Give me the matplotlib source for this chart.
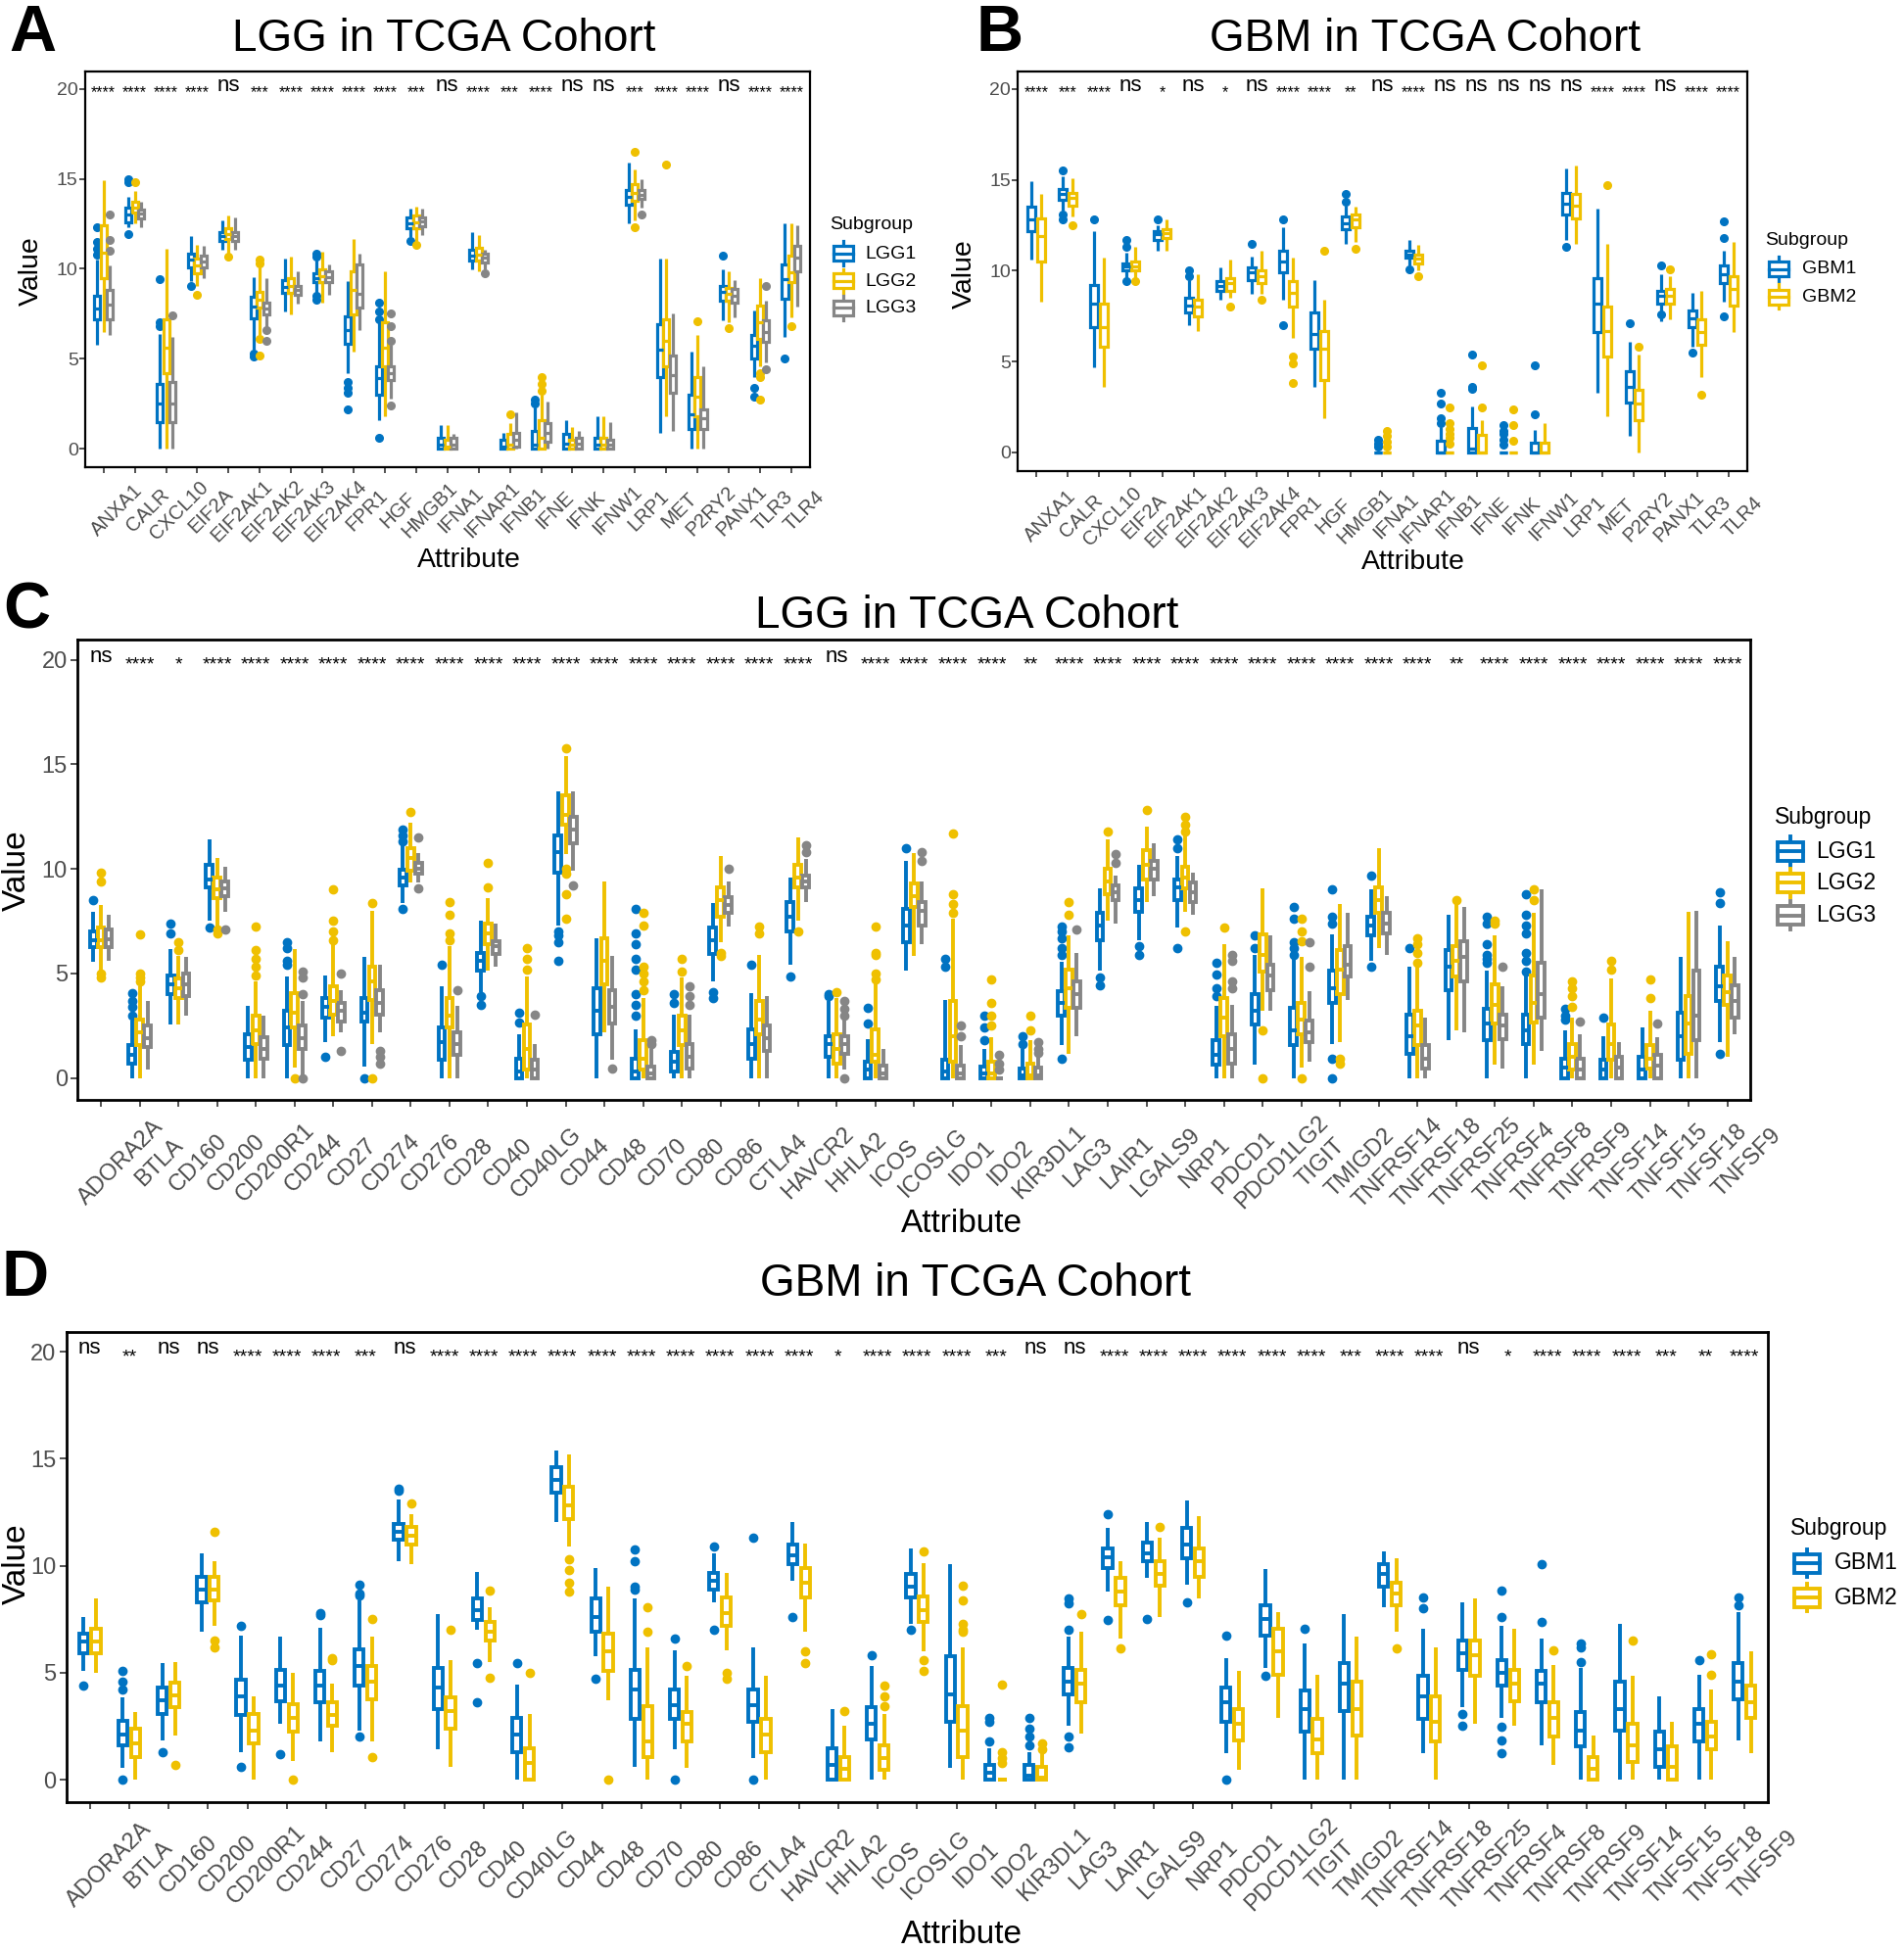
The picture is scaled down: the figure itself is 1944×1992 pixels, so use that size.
import matplotlib
matplotlib.use("Agg")
import matplotlib.pyplot as plt
from matplotlib.patches import Rectangle
from matplotlib.lines import Line2D
from matplotlib.transforms import ScaledTranslation

plt.rcParams["font.family"] = ["Liberation Sans", "DejaVu Sans"]

# jco palette
BLUE, YELLOW, GREY = "#0073C2", "#EFC000", "#868686"

# ---------------- panels A / B ----------------
icd_genes = ["ANXA1", "CALR", "CXCL10", "EIF2A", "EIF2AK1", "EIF2AK2", "EIF2AK3", "EIF2AK4",
             "FPR1", "HGF", "HMGB1", "IFNA1", "IFNAR1", "IFNB1", "IFNE", "IFNK", "IFNW1",
             "LRP1", "MET", "P2RY2", "PANX1", "TLR3", "TLR4"]
sig_a = ["****", "****", "****", "****", "ns", "***", "****", "****", "****", "****", "***", "ns",
         "****", "***", "****", "ns", "ns", "***", "****", "****", "ns", "****", "****"]
sig_b = ["****", "***", "****", "ns", "*", "ns", "*", "ns", "****", "****", "**", "ns",
         "****", "ns", "ns", "ns", "ns", "ns", "****", "****", "ns", "****", "****"]

# rows: whisker low, Q1, median, Q3, whisker high, outliers
lgg1_icd = [
    (5.8, 7.2, 7.8, 8.5, 10.5, [10.8, 11.1, 11.5, 12.3]),
    (12.3, 12.6, 13.0, 13.4, 14.0, [14.8, 14.95, 11.9]),
    (0.0, 1.5, 2.5, 3.6, 6.4, [6.8, 7.0, 9.4]),
    (9.3, 10.05, 10.5, 10.85, 11.8, [9.05]),
    (11.05, 11.56, 11.8, 12.06, 12.66, []),
    (5.5, 7.24, 7.9, 8.44, 9.55, [5.1, 5.3]),
    (7.64, 8.64, 9.0, 9.35, 10.55, []),
    (8.64, 9.25, 9.5, 9.75, 10.45, [10.7, 10.85, 8.5, 8.3]),
    (4.2, 5.83, 6.6, 7.34, 9.3, [3.7, 3.4, 3.1, 2.2]),
    (1.6, 3.0, 3.9, 4.6, 7.0, [7.2, 7.6, 8.1, 0.6]),
    (11.75, 12.26, 12.5, 12.86, 13.35, [11.55]),
    (0.0, 0.0, 0.2, 0.6, 1.3, []),
    (9.95, 10.45, 10.75, 11.05, 12.06, []),
    (0.0, 0.0, 0.1, 0.5, 0.9, []),
    (0.0, 0.0, 0.2, 1.0, 2.3, [2.5, 2.7]),
    (0.0, 0.0, 0.3, 0.8, 1.6, []),
    (0.0, 0.0, 0.2, 0.6, 1.8, []),
    (12.5, 13.55, 14.0, 14.4, 15.9, []),
    (0.9, 4.0, 5.5, 6.93, 10.55, []),
    (0.0, 1.1, 1.9, 3.0, 5.4, []),
    (7.14, 8.24, 8.7, 9.05, 9.95, [10.75]),
    (4.0, 5.0, 5.7, 6.33, 7.7, [3.4, 2.9]),
    (6.2, 8.34, 9.4, 10.25, 12.5, [5.0]),
]
lgg2_icd = [
    (6.5, 9.5, 10.9, 12.4, 14.9, []),
    (12.5, 13.1, 13.4, 13.7, 14.3, [14.8]),
    (0.0, 4.2, 5.6, 7.2, 11.1, []),
    (9.05, 9.75, 10.2, 10.55, 11.35, [8.55]),
    (10.85, 11.66, 11.95, 12.26, 12.96, [10.65]),
    (6.3, 7.84, 8.3, 8.74, 10.05, [10.3, 10.5, 6.1, 5.2]),
    (7.44, 8.64, 9.05, 9.45, 10.65, []),
    (8.14, 9.25, 9.6, 9.95, 10.95, []),
    (5.4, 7.44, 8.8, 9.85, 11.66, []),
    (1.8, 4.6, 5.6, 7.0, 9.85, []),
    (11.55, 12.26, 12.6, 12.96, 13.45, [11.35]),
    (0.0, 0.0, 0.1, 0.5, 1.3, []),
    (9.85, 10.45, 10.8, 11.15, 11.86, []),
    (0.0, 0.0, 0.2, 0.8, 1.4, [1.9]),
    (0.0, 0.0, 0.6, 1.6, 3.0, [3.2, 3.6, 4.0]),
    (0.0, 0.0, 0.2, 0.5, 1.2, []),
    (0.0, 0.0, 0.2, 0.6, 1.8, []),
    (12.66, 13.8, 14.2, 14.7, 15.5, [16.5, 12.3]),
    (1.8, 4.6, 6.0, 7.2, 10.55, [15.8]),
    (0.0, 1.8, 2.9, 4.0, 6.3, [7.1]),
    (7.0, 8.24, 8.6, 8.95, 9.85, [6.7]),
    (4.6, 6.1, 7.0, 7.94, 9.45, [4.2, 4.0, 2.7]),
    (7.3, 9.25, 9.8, 10.75, 12.5, [6.8]),
]
lgg3_icd = [
    (6.3, 7.2, 8.0, 8.8, 10.2, [11.0, 11.6, 13.0]),
    (12.3, 12.8, 13.05, 13.3, 13.7, []),
    (0.0, 1.5, 2.5, 3.7, 6.2, [7.4]),
    (9.45, 10.05, 10.4, 10.75, 11.25, []),
    (11.05, 11.56, 11.8, 12.06, 12.86, []),
    (6.7, 7.44, 7.8, 8.14, 9.45, [6.0, 6.6]),
    (8.04, 8.54, 8.8, 9.05, 9.85, []),
    (8.54, 9.25, 9.55, 9.85, 10.25, []),
    (6.6, 7.84, 8.6, 10.25, 10.85, []),
    (2.8, 3.8, 4.2, 4.6, 5.8, [6.0, 6.8, 7.5, 2.4]),
    (11.85, 12.36, 12.65, 12.86, 13.35, []),
    (0.0, 0.0, 0.2, 0.6, 0.8, []),
    (9.95, 10.35, 10.6, 10.85, 11.05, [9.75]),
    (0.0, 0.1, 0.5, 0.9, 2.0, []),
    (0.0, 0.4, 0.9, 1.4, 2.6, []),
    (0.0, 0.0, 0.3, 0.6, 1.0, []),
    (0.0, 0.0, 0.2, 0.5, 1.5, []),
    (13.4, 13.9, 14.1, 14.4, 15.0, [13.0]),
    (1.0, 3.1, 4.1, 5.2, 7.5, []),
    (0.0, 1.1, 1.7, 2.2, 4.6, []),
    (7.3, 8.14, 8.5, 8.85, 9.35, []),
    (4.8, 5.93, 6.5, 7.14, 8.24, [9.05, 4.4]),
    (7.9, 9.85, 10.6, 11.25, 12.4, []),
]
gbm1_icd = [
    (10.6, 12.2, 12.8, 13.5, 14.9, []),
    (13.3, 13.9, 14.2, 14.5, 15.2, [15.5, 13.1, 12.8]),
    (4.7, 6.9, 8.2, 9.2, 12.2, [12.8]),
    (9.6, 10.0, 10.25, 10.4, 11.0, [11.3, 11.7, 9.4]),
    (11.1, 11.7, 12.0, 12.2, 12.5, [12.8]),
    (7.0, 7.7, 8.1, 8.5, 9.5, [9.7, 10.0]),
    (8.4, 8.9, 9.15, 9.4, 10.2, []),
    (8.7, 9.5, 9.9, 10.2, 10.8, [11.5]),
    (8.4, 9.9, 10.5, 11.1, 12.4, [12.8, 7.0]),
    (3.6, 5.7, 6.5, 7.7, 9.5, []),
    (11.5, 12.3, 12.6, 13.0, 13.6, [13.8, 14.2]),
    (0.0, 0.0, 0.0, 0.0, 0.0, [0.3, 0.5, 0.7]),
    (10.3, 10.7, 10.9, 11.1, 11.7, [10.1]),
    (0.0, 0.0, 0.0, 0.65, 1.4, [1.6, 1.9, 2.7, 3.3]),
    (0.0, 0.0, 0.2, 1.35, 2.55, [3.5, 3.6, 5.4]),
    (0.0, 0.0, 0.0, 0.0, 0.0, [0.4, 0.7, 1.0, 1.2, 1.5]),
    (0.0, 0.0, 0.0, 0.55, 1.25, [2.1, 4.8]),
    (11.7, 13.1, 13.7, 14.3, 15.6, [11.3]),
    (3.3, 6.6, 8.2, 9.6, 13.4, []),
    (0.9, 2.75, 3.6, 4.45, 6.1, [7.1]),
    (7.2, 8.2, 8.6, 8.9, 9.8, [10.3, 7.6]),
    (5.8, 6.9, 7.4, 7.8, 8.8, [5.5]),
    (8.3, 9.3, 9.8, 10.3, 11.1, [11.8, 12.7, 7.5]),
]
gbm2_icd = [
    (8.3, 10.5, 11.9, 12.9, 14.2, []),
    (13.0, 13.6, 14.0, 14.3, 15.1, [12.5]),
    (3.6, 5.8, 6.9, 8.2, 10.7, []),
    (9.6, 10.0, 10.25, 10.5, 11.3, [9.4]),
    (11.1, 11.8, 12.05, 12.3, 12.8, []),
    (6.7, 7.5, 8.0, 8.4, 9.8, []),
    (8.5, 8.9, 9.3, 9.6, 10.6, [8.0]),
    (8.7, 9.3, 9.7, 10.0, 11.1, [8.4]),
    (6.3, 8.0, 8.8, 9.4, 10.7, [5.3, 4.9, 3.8]),
    (1.9, 4.0, 5.7, 6.7, 8.4, [11.1]),
    (11.6, 12.4, 12.8, 13.1, 13.5, [11.2]),
    (0.0, 0.0, 0.0, 0.0, 0.0, [0.3, 0.6, 0.9, 1.2]),
    (10.0, 10.4, 10.65, 10.9, 11.4, [9.7]),
    (0.0, 0.0, 0.0, 0.0, 0.0, [0.5, 0.8, 1.0, 1.3, 1.6, 2.5]),
    (0.0, 0.0, 0.0, 0.95, 1.75, [2.5, 4.8]),
    (0.0, 0.0, 0.0, 0.0, 0.0, [0.65, 1.5, 2.35]),
    (0.0, 0.0, 0.0, 0.55, 1.6, []),
    (11.5, 12.9, 13.6, 14.2, 15.8, []),
    (2.0, 5.3, 6.7, 8.0, 11.5, [14.7]),
    (0.0, 1.75, 2.7, 3.45, 5.4, [5.8]),
    (7.3, 8.2, 8.6, 9.0, 9.7, [10.1]),
    (4.15, 5.9, 6.6, 7.3, 8.9, [3.15]),
    (6.6, 8.1, 9.0, 9.7, 11.6, []),
]

# ---------------- panels C / D ----------------
icp_genes = ["ADORA2A", "BTLA", "CD160", "CD200", "CD200R1", "CD244", "CD27", "CD274", "CD276",
             "CD28", "CD40", "CD40LG", "CD44", "CD48", "CD70", "CD80", "CD86", "CTLA4", "HAVCR2",
             "HHLA2", "ICOS", "ICOSLG", "IDO1", "IDO2", "KIR3DL1", "LAG3", "LAIR1", "LGALS9",
             "NRP1", "PDCD1", "PDCD1LG2", "TIGIT", "TMIGD2", "TNFRSF14", "TNFRSF18", "TNFRSF25",
             "TNFRSF4", "TNFRSF8", "TNFRSF9", "TNFSF14", "TNFSF15", "TNFSF18", "TNFSF9"]
sig_c = ["ns", "****", "*", "****", "****", "****", "****", "****", "****", "****", "****", "****",
         "****", "****", "****", "****", "****", "****", "****", "ns", "****", "****", "****", "****",
         "**", "****", "****", "****", "****", "****", "****", "****", "****", "****", "****", "**",
         "****", "****", "****", "****", "****", "****", "****"]
sig_d = ["ns", "**", "ns", "ns", "****", "****", "****", "***", "ns", "****", "****", "****", "****",
         "****", "****", "****", "****", "****", "****", "*", "****", "****", "****", "***", "ns",
         "ns", "****", "****", "****", "****", "****", "****", "***", "****", "****", "ns", "*",
         "****", "****", "****", "***", "**", "****"]

lgg1_icp = [
    (5.54, 6.24, 6.6, 7.0, 7.96, [8.5]),
    (0.0, 0.7, 1.1, 1.56, 2.73, [3.0, 3.4, 3.7, 4.06]),
    (2.57, 4.0, 4.5, 4.9, 6.16, [6.9, 7.4]),
    (7.5, 9.1, 9.5, 10.2, 11.4, [7.2]),
    (0.0, 0.86, 1.5, 2.1, 3.43, []),
    (0.0, 1.56, 2.4, 3.2, 4.84, [5.4, 5.6, 6.2, 6.47]),
    (1.7, 2.9, 3.4, 3.8, 4.9, [1.0]),
    (0.55, 2.7, 3.1, 3.8, 5.8, [0.0]),
    (8.35, 9.2, 9.6, 9.98, 11.15, [11.3, 11.6, 11.9, 8.1]),
    (0.0, 0.86, 1.7, 2.4, 4.37, [5.4]),
    (4.1, 5.15, 5.6, 6.0, 7.5, [3.5, 3.9]),
    (0.0, 0.0, 0.3, 0.94, 2.1, [2.65, 3.1]),
    (7.3, 9.8, 10.8, 11.6, 13.7, [7.0, 6.8, 6.5, 5.6]),
    (0.0, 2.1, 3.2, 4.3, 6.7, []),
    (0.0, 0.0, 0.3, 0.94, 2.34, [3.0, 3.5, 4.0, 5.2, 5.7, 6.4, 6.9, 8.1]),
    (0.0, 0.3, 0.8, 1.25, 3.04, [3.6, 4.0]),
    (4.6, 5.93, 6.6, 7.2, 8.35, [4.1, 3.8]),
    (0.0, 0.94, 1.6, 2.34, 4.06, [5.4]),
    (5.4, 7.0, 7.7, 8.4, 9.6, [4.84]),
    (0.0, 1.0, 1.6, 2.0, 3.67, [3.9, 4.0]),
    (0.0, 0.0, 0.4, 0.78, 1.87, [2.6, 3.35]),
    (5.15, 6.47, 7.3, 8.1, 10.4, [11.0]),
    (0.0, 0.0, 0.3, 0.86, 3.74, [5.3, 5.7]),
    (0.0, 0.0, 0.2, 0.55, 1.4, [1.8, 2.4, 3.0]),
    (0.0, 0.0, 0.1, 0.47, 1.4, [1.6, 2.0]),
    (1.56, 2.96, 3.6, 4.13, 5.54, [5.9, 6.2, 6.7, 7.0, 7.25, 0.94]),
    (5.15, 6.6, 7.3, 7.9, 9.05, [4.8, 4.45]),
    (6.6, 7.96, 8.5, 9.05, 10.2, [6.3, 5.9]),
    (7.2, 8.5, 9.1, 9.5, 10.6, [11.0, 11.4, 6.2]),
    (0.0, 0.62, 1.1, 1.8, 3.43, [3.9, 4.3, 4.95, 5.5]),
    (0.62, 2.57, 3.2, 4.0, 5.9, [6.2, 6.8]),
    (0.0, 1.56, 2.3, 3.35, 5.77, [5.9, 6.2, 6.5, 7.6, 8.2]),
    (1.64, 3.6, 4.3, 5.15, 6.86, [7.4, 7.7, 9.0, 0.9, 0.0]),
    (5.6, 6.8, 7.3, 7.7, 9.0, [9.7, 5.3]),
    (0.0, 1.17, 2.0, 3.04, 5.3, [6.2]),
    (1.8, 4.2, 5.3, 6.1, 7.8, []),
    (0.0, 1.8, 2.6, 3.3, 5.15, [5.5, 5.7, 5.9, 6.4, 7.4, 7.7]),
    (0.0, 1.64, 2.3, 3.04, 5.0, [5.1, 5.6, 6.0, 6.9, 7.3, 7.8, 8.8]),
    (0.0, 0.0, 0.5, 0.94, 2.3, [2.8, 3.0, 3.3]),
    (0.0, 0.0, 0.4, 0.86, 2.0, [2.9]),
    (0.0, 0.0, 0.4, 1.0, 2.4, []),
    (0.0, 0.86, 2.0, 3.1, 5.8, []),
    (1.7, 3.67, 4.4, 5.3, 7.3, [8.35, 8.9, 1.17]),
]
lgg2_icp = [
    (5.07, 6.24, 6.6, 7.2, 8.27, [9.4, 9.8, 5.0, 4.8]),
    (0.0, 1.56, 2.2, 2.8, 4.4, [4.6, 4.8, 5.0, 6.86]),
    (2.57, 3.8, 4.3, 4.75, 5.85, [6.1, 6.5]),
    (7.25, 8.6, 9.0, 9.6, 10.5, [7.1, 6.9]),
    (0.0, 1.64, 2.3, 2.96, 4.6, [4.9, 5.3, 5.7, 6.1, 7.25]),
    (0.5, 2.42, 3.1, 4.06, 6.16, [0.0]),
    (2.0, 3.04, 3.7, 4.37, 6.4, [6.6, 7.0, 7.5, 9.0]),
    (1.64, 3.74, 4.6, 5.3, 8.0, [8.35, 0.0]),
    (9.36, 9.9, 10.5, 11.0, 12.2, [12.7]),
    (0.0, 2.4, 3.0, 3.8, 6.3, [6.6, 6.9, 7.8, 8.4]),
    (5.15, 6.4, 6.9, 7.4, 8.6, [9.1, 10.3]),
    (0.0, 0.4, 1.4, 2.57, 4.84, [5.2, 5.7, 6.2]),
    (10.7, 12.1, 12.6, 13.5, 15.4, [15.75, 10.0, 9.75, 8.8, 7.6]),
    (2.2, 4.5, 5.6, 6.7, 9.4, []),
    (0.0, 0.4, 0.9, 1.8, 3.8, [4.2, 4.6, 5.0, 5.3, 7.3, 7.9]),
    (0.0, 1.56, 2.3, 2.96, 4.8, [5.1, 5.7]),
    (6.5, 7.7, 8.5, 9.1, 10.6, [6.0, 5.85]),
    (0.0, 2.1, 2.8, 3.67, 5.9, [6.9, 7.25]),
    (7.5, 9.1, 9.6, 10.2, 11.5, [7.0]),
    (0.0, 0.7, 1.4, 2.1, 3.8, [4.1]),
    (0.0, 0.78, 1.1, 2.34, 4.6, [4.7, 5.0, 5.9, 6.0, 7.25]),
    (5.85, 8.2, 8.7, 9.3, 10.76, []),
    (0.0, 0.78, 2.0, 3.67, 7.6, [7.9, 8.3, 8.8, 11.7]),
    (0.0, 0.0, 0.2, 0.78, 1.95, [2.5, 3.0, 3.6, 4.7]),
    (0.0, 0.0, 0.1, 0.7, 1.8, [2.26, 3.0]),
    (1.17, 3.35, 4.3, 5.2, 6.8, [7.8, 8.4]),
    (7.5, 8.8, 9.4, 10.0, 11.4, [11.8]),
    (8.4, 9.5, 10.2, 10.9, 12.0, [12.8]),
    (7.95, 9.05, 9.6, 10.1, 11.6, [11.8, 12.1, 12.5, 7.0]),
    (0.0, 2.0, 2.9, 3.8, 6.4, [7.2]),
    (3.2, 5.07, 5.9, 6.86, 9.05, [2.26, 0.0]),
    (0.5, 2.1, 2.8, 3.6, 5.8, [6.55, 7.0, 7.6, 0.0]),
    (1.7, 4.0, 5.2, 6.1, 8.3, [0.9, 0.7]),
    (6.2, 7.9, 8.5, 9.1, 11.0, []),
    (0.0, 1.56, 2.5, 3.2, 5.3, [5.5, 6.0, 6.4, 6.7]),
    (2.26, 4.84, 5.6, 6.3, 8.3, [8.5]),
    (0.62, 2.6, 3.5, 4.5, 6.8, [7.4, 7.5]),
    (0.62, 2.65, 3.6, 4.9, 7.9, [8.5, 9.0]),
    (0.0, 0.39, 1.0, 1.64, 2.9, [3.4, 3.9, 4.3, 4.6]),
    (0.0, 0.86, 1.6, 2.57, 4.75, [5.2, 5.6]),
    (0.0, 0.47, 0.9, 1.56, 3.2, [3.8, 4.7]),
    (0.0, 1.17, 2.6, 3.9, 7.96, []),
    (1.0, 3.5, 4.1, 4.9, 6.55, []),
]
lgg3_icp = [
    (5.6, 6.24, 6.65, 7.1, 7.8, []),
    (0.4, 1.48, 1.9, 2.5, 3.67, []),
    (2.96, 3.9, 4.5, 5.0, 5.77, []),
    (7.95, 8.7, 9.05, 9.4, 10.1, [7.1]),
    (0.0, 0.94, 1.4, 1.95, 2.96, []),
    (0.0, 1.4, 1.9, 2.5, 3.67, [4.0, 4.8, 5.1, 0.0]),
    (2.2, 2.7, 3.2, 3.6, 4.2, [5.0, 1.3]),
    (2.2, 3.04, 3.6, 4.2, 5.4, [1.3, 1.0, 0.7]),
    (9.36, 9.75, 10.0, 10.3, 10.76, [11.5, 9.05]),
    (0.0, 1.1, 1.6, 2.2, 3.43, [4.2]),
    (5.3, 5.93, 6.3, 6.55, 7.4, []),
    (0.0, 0.0, 0.4, 0.86, 1.64, [3.04]),
    (9.9, 11.2, 11.9, 12.5, 13.7, [9.2]),
    (0.86, 2.6, 3.4, 4.2, 5.85, [0.47]),
    (0.0, 0.0, 0.2, 0.55, 1.4, [1.6, 1.8]),
    (0.0, 0.47, 1.0, 1.64, 3.04, [3.5, 3.9, 4.4]),
    (7.25, 7.9, 8.25, 8.65, 9.4, [10.0]),
    (0.0, 1.3, 1.9, 2.5, 3.9, []),
    (8.4, 9.1, 9.4, 9.7, 10.45, [10.8, 11.15]),
    (0.4, 1.17, 1.6, 2.0, 2.9, [3.0, 3.3, 3.7, 0.0]),
    (0.0, 0.0, 0.2, 0.57, 1.4, []),
    (6.4, 7.3, 8.0, 8.4, 9.4, [10.4, 10.8]),
    (0.0, 0.0, 0.2, 0.6, 1.56, [2.0, 2.5]),
    (0.0, 0.0, 0.0, 0.0, 0.0, [0.4, 0.7, 1.1]),
    (0.0, 0.0, 0.1, 0.5, 1.0, [1.2, 1.4, 1.7]),
    (2.0, 3.35, 4.0, 4.6, 6.0, [7.1]),
    (7.4, 8.5, 8.9, 9.2, 9.7, [10.3, 10.7]),
    (8.7, 9.5, 10.0, 10.4, 11.2, []),
    (7.8, 8.4, 8.9, 9.36, 9.8, []),
    (0.0, 0.7, 1.4, 2.1, 3.5, [4.3, 4.6, 5.6, 5.9]),
    (3.2, 4.2, 4.9, 5.4, 6.8, []),
    (0.78, 1.72, 2.2, 2.73, 4.13, [5.3, 6.5]),
    (3.74, 4.84, 5.4, 6.3, 7.9, []),
    (5.9, 6.9, 7.4, 7.9, 8.7, []),
    (0.0, 0.47, 0.9, 1.56, 2.9, []),
    (2.2, 4.6, 5.8, 6.55, 8.2, []),
    (0.47, 1.87, 2.5, 3.04, 4.37, [5.3]),
    (1.3, 2.9, 4.0, 5.5, 9.0, []),
    (0.0, 0.0, 0.4, 0.94, 2.1, [2.7]),
    (0.0, 0.0, 0.5, 1.0, 1.7, []),
    (0.0, 0.0, 0.6, 1.1, 1.95, [2.6]),
    (0.0, 1.8, 3.0, 5.15, 8.0, []),
    (2.1, 2.9, 3.7, 4.45, 5.77, []),
]
gbm1_icp = [
    (5.07, 5.9, 6.45, 6.83, 7.6, [4.38]),
    (0.54, 1.61, 2.1, 2.76, 3.84, [4.2, 4.6, 5.1, 0.0]),
    (1.84, 3.07, 3.7, 4.3, 5.45, [1.3]),
    (6.9, 8.3, 8.9, 9.5, 10.6, []),
    (1.3, 3.0, 3.9, 4.68, 6.75, [7.2, 0.6]),
    (2.6, 3.68, 4.4, 5.14, 6.7, [1.2]),
    (1.77, 3.6, 4.4, 5.07, 7.1, [7.7, 7.8]),
    (2.3, 4.4, 5.3, 6.1, 8.4, [8.6, 8.7, 9.1, 2.0]),
    (10.2, 11.2, 11.6, 11.97, 13.1, [13.5, 13.6]),
    (1.4, 3.3, 4.3, 5.2, 7.75, []),
    (7.0, 7.45, 7.9, 8.45, 9.7, [5.45, 3.6]),
    (0.0, 1.3, 2.1, 2.9, 4.45, [5.45]),
    (12.05, 13.4, 14.0, 14.6, 15.4, []),
    (5.75, 6.9, 7.6, 8.45, 9.9, [4.7]),
    (0.6, 2.84, 4.2, 5.14, 8.45, [8.9, 9.0, 10.2, 10.75]),
    (1.4, 2.84, 3.5, 4.22, 6.06, [6.6, 0.0]),
    (8.3, 8.9, 9.3, 9.67, 10.6, [10.9, 7.0]),
    (1.0, 2.69, 3.5, 4.22, 6.2, [11.3, 0.0]),
    (9.3, 10.06, 10.5, 10.97, 12.05, [7.6]),
    (0.0, 0.0, 0.7, 1.46, 3.3, []),
    (0.0, 1.9, 2.6, 3.38, 5.3, [5.8]),
    (7.3, 8.5, 9.0, 9.6, 10.8, [7.0]),
    (0.54, 2.69, 4.0, 5.75, 10.06, []),
    (0.0, 0.0, 0.3, 0.7, 1.46, [1.8, 2.7, 2.9]),
    (0.0, 0.0, 0.2, 0.7, 1.3, [1.6, 2.0, 2.4, 2.9]),
    (2.5, 4.0, 4.6, 5.2, 6.7, [7.0, 8.25, 8.45, 2.0, 1.5]),
    (8.8, 9.9, 10.4, 10.8, 11.75, [12.4, 7.45]),
    (9.44, 10.2, 10.6, 11.1, 12.05, [7.5]),
    (9.1, 10.36, 11.0, 11.75, 13.05, [8.3]),
    (1.23, 2.7, 3.6, 4.3, 5.7, [6.75, 0.0]),
    (5.2, 6.75, 7.5, 8.14, 9.83, [4.84]),
    (0.0, 2.23, 3.3, 4.15, 6.37, [7.06]),
    (0.0, 3.2, 4.5, 5.45, 7.75, []),
    (8.06, 9.0, 9.6, 10.06, 10.67, []),
    (1.23, 2.84, 3.9, 4.84, 7.06, [8.0, 8.5]),
    (3.38, 5.14, 5.9, 6.5, 8.3, [3.07, 2.5]),
    (2.9, 4.38, 5.0, 5.6, 7.2, [7.6, 8.86, 2.46, 1.84, 1.23]),
    (1.6, 3.6, 4.5, 5.07, 6.6, [7.37, 10.06]),
    (0.0, 1.54, 2.3, 3.15, 5.2, [5.5, 6.2, 6.37]),
    (0.0, 2.3, 3.3, 4.6, 7.3, []),
    (0.0, 0.6, 1.4, 2.23, 3.9, []),
    (0.0, 1.77, 2.6, 3.3, 4.9, [5.6]),
    (1.84, 3.76, 4.6, 5.45, 7.83, [8.14, 8.5]),
]
gbm2_icp = [
    (5.0, 5.9, 6.45, 7.06, 8.45, []),
    (0.0, 1.07, 1.7, 2.38, 3.15, []),
    (2.07, 3.38, 3.95, 4.53, 5.5, [0.7]),
    (7.2, 8.37, 8.9, 9.5, 10.2, [11.6, 6.5, 6.2]),
    (0.0, 1.69, 2.3, 3.07, 3.9, []),
    (0.85, 2.23, 2.9, 3.53, 5.0, [0.0]),
    (1.3, 2.5, 3.0, 3.6, 4.5, [5.6, 5.7]),
    (1.77, 3.76, 4.6, 5.3, 6.7, [7.5, 1.07]),
    (10.06, 10.97, 11.4, 11.8, 12.4, [12.9]),
    (0.6, 2.38, 3.2, 3.84, 5.6, [7.0]),
    (5.5, 6.5, 6.9, 7.37, 8.06, [8.86, 4.76]),
    (0.0, 0.0, 0.8, 1.46, 3.07, [5.0]),
    (10.9, 12.2, 12.8, 13.7, 15.2, [10.3, 9.8, 9.2, 8.8]),
    (3.7, 5.07, 6.0, 6.83, 9.0, [0.0]),
    (0.0, 1.07, 1.8, 3.45, 6.2, [6.9, 8.06]),
    (0.54, 1.77, 2.6, 3.15, 4.84, [5.3]),
    (6.06, 7.2, 7.8, 8.5, 9.67, [5.0, 4.7]),
    (0.0, 1.3, 2.1, 2.84, 4.84, []),
    (6.9, 8.5, 9.2, 9.9, 11.05, [6.0, 5.45]),
    (0.0, 0.0, 0.5, 1.07, 2.5, [3.2]),
    (0.0, 0.46, 1.0, 1.6, 3.07, [3.45, 3.9, 4.4]),
    (6.0, 7.37, 7.9, 8.55, 10.1, [10.67, 5.6, 5.07]),
    (0.0, 1.07, 2.3, 3.45, 6.2, [6.9, 7.0, 7.3, 8.4, 9.06]),
    (0.0, 0.0, 0.0, 0.0, 0.0, [0.8, 1.0, 1.3, 4.45]),
    (0.0, 0.0, 0.1, 0.6, 1.3, [1.4, 1.7]),
    (2.15, 3.6, 4.5, 5.14, 6.9, [7.75]),
    (6.6, 8.14, 8.8, 9.44, 10.2, [6.14]),
    (7.6, 9.06, 9.6, 10.2, 11.3, [11.8]),
    (8.45, 9.5, 10.2, 10.8, 12.3, []),
    (0.46, 1.84, 2.6, 3.3, 5.07, []),
    (2.9, 4.9, 6.0, 7.06, 7.83, []),
    (0.0, 1.23, 1.9, 2.84, 4.9, []),
    (0.0, 2.07, 3.3, 4.6, 6.7, []),
    (6.9, 8.14, 8.7, 9.2, 10.36, [6.14]),
    (0.0, 1.77, 2.7, 3.9, 6.2, []),
    (2.6, 4.84, 5.8, 6.5, 8.45, []),
    (2.53, 3.68, 4.5, 5.14, 7.06, []),
    (0.7, 2.0, 2.9, 3.6, 5.37, [6.06]),
    (0.0, 0.0, 0.5, 1.07, 2.07, []),
    (0.0, 0.84, 1.6, 2.6, 4.84, [6.5]),
    (0.0, 0.0, 0.6, 1.54, 2.7, []),
    (0.0, 1.4, 2.0, 2.7, 4.2, [4.9, 5.84]),
    (1.23, 2.9, 3.6, 4.38, 6.0, []),
]

for series in (lgg1_icd, lgg2_icd, lgg3_icd, gbm1_icd, gbm2_icd):
    assert len(series) == len(icd_genes)
for series in (lgg1_icp, lgg2_icp, lgg3_icp, gbm1_icp, gbm2_icp):
    assert len(series) == len(icp_genes)

W, H = 1944, 1992
fig = plt.figure(figsize=(W / 100, H / 100), dpi=100)


def fx(x):
    return x / W


def fy(y):
    return 1 - y / H


def add_axes(left, top, right, bottom):
    return fig.add_axes([fx(left), fy(bottom), (right - left) / W, (bottom - top) / H])


def draw_panel(ax, genes, sig, groups, colors, offsets, width, lw, xfs, yfs,
               lab_dx, lab_dy, spine_lw, tick_len, ypad, ms, star_fs):
    pos = list(range(1, len(genes) + 1))
    for rows, col, off in zip(groups, colors, offsets):
        stats = [dict(whislo=r[0], q1=r[1], med=r[2], q3=r[3], whishi=r[4], fliers=r[5]) for r in rows]
        ax.bxp(stats, positions=[p + off for p in pos], widths=width, patch_artist=True,
               showcaps=False, manage_ticks=False,
               boxprops=dict(facecolor="white", edgecolor=col, linewidth=lw),
               medianprops=dict(color=col, linewidth=lw, solid_capstyle="butt"),
               whiskerprops=dict(color=col, linewidth=lw, solid_capstyle="butt"),
               flierprops=dict(marker="o", markerfacecolor=col, markeredgecolor=col,
                               markersize=ms, linestyle="none"))
    for p, s in zip(pos, sig):
        if s == "ns":
            ax.annotate(s, (p, 20), xytext=(0, -1.4), textcoords="offset points",
                        ha="center", va="baseline", fontsize=16)
        else:
            ax.annotate(s, (p, 20), xytext=(0, -0.52 * star_fs), textcoords="offset points",
                        ha="center", va="baseline", fontsize=star_fs)
    ax.set_xlim(0.4, len(genes) + 0.6)
    ax.set_ylim(-1.03, 20.95)
    ax.set_yticks([0, 5, 10, 15, 20])
    ax.set_yticklabels(["0", "5", "10", "15", "20"], fontsize=yfs, color="#4D4D4D")
    ax.set_xticks(pos)
    ax.set_xticklabels(genes, rotation=45, ha="center", va="center", rotation_mode="anchor",
                       fontsize=xfs, color="#4D4D4D")
    ax.tick_params(direction="out", length=tick_len, width=1.2, color="#333333")
    ax.tick_params(axis="y", pad=ypad)
    ax.tick_params(axis="x", pad=2)
    for sp in ax.spines.values():
        sp.set_linewidth(spine_lw)
        sp.set_color("black")
    shift = ScaledTranslation(lab_dx / 100, -lab_dy / 100, fig.dpi_scale_trans)
    for lab in ax.get_xticklabels():
        lab.set_transform(lab.get_transform() + shift)


def draw_legend(labels, colors, x_title, y_title, x_key, x_lab, ys, fs, kw, kh, wh, lw):
    fig.text(fx(x_title), fy(y_title), "Subgroup", fontsize=fs, ha="left", va="center")
    for lab, col, y in zip(labels, colors, ys):
        fig.add_artist(Line2D([fx(x_key)] * 2, [fy(y + kh / 2 + wh), fy(y - kh / 2 - wh)],
                              color=col, lw=lw, transform=fig.transFigure, zorder=3))
        fig.add_artist(Rectangle((fx(x_key - kw / 2), fy(y + kh / 2)), kw / W, kh / H,
                                 transform=fig.transFigure, facecolor="white", edgecolor=col,
                                 lw=lw, zorder=4))
        fig.add_artist(Line2D([fx(x_key - kw / 2), fx(x_key + kw / 2)], [fy(y)] * 2,
                              color=col, lw=lw, transform=fig.transFigure, zorder=5))
        fig.text(fx(x_lab), fy(y), lab, fontsize=fs, ha="left", va="center")


# panel A
axA = add_axes(86.6, 73.2, 827, 477)
draw_panel(axA, icd_genes, sig_a, [lgg1_icd, lgg2_icd, lgg3_icd], [BLUE, YELLOW, GREY],
           [-0.2, 0.0, 0.2], 0.19, 2.3, 14.5, 14, 13.5, 36, 1.6, 4, 1.0, 5.5, 11.5)
# panel B
axB = add_axes(1038.75, 73.2, 1784, 481)
draw_panel(axB, icd_genes, sig_b, [gbm1_icd, gbm2_icd], [BLUE, YELLOW],
           [-0.15, 0.15], 0.25, 2.3, 14.5, 14, 14, 38, 1.6, 4, 1.0, 5.5, 11.5)
# panel C
axC = add_axes(79.4, 653.3, 1787.3, 1122.6)
draw_panel(axC, icp_genes, sig_c, [lgg1_icp, lgg2_icp, lgg3_icp], [BLUE, YELLOW, GREY],
           [-0.2, 0.0, 0.2], 0.17, 2.8, 17, 17, 20, 55, 2.0, 5, 2.5, 6, 14)
# panel D
axD = add_axes(67.5, 1359.5, 1805.3, 1839.5)
draw_panel(axD, icp_genes, sig_d, [gbm1_icp, gbm2_icp], [BLUE, YELLOW],
           [-0.16, 0.16], 0.23, 2.8, 17, 17, 20, 55, 2.0, 5, 2.5, 6, 14)

# titles and panel letters
for letter, lx, tx, base, title in [("A", 9, 453.6, 52, "LGG in TCGA Cohort"),
                                    ("B", 996, 1455, 52, "GBM in TCGA Cohort"),
                                    ("C", 3, 987, 641, "LGG in TCGA Cohort"),
                                    ("D", 1, 995.5, 1323, "GBM in TCGA Cohort")]:
    fig.text(fx(lx), fy(base), letter, fontsize=48, fontweight="bold", ha="left", va="baseline")
    fig.text(fx(tx), fy(base), title, fontsize=33, ha="center", va="baseline")

# axis titles
for vx, vy, ax_x, ax_y, fs in [(32, 277, 479, 572, 20.5), (985, 280, 1443, 574, 20.5),
                               (17, 889, 982, 1249, 24), (17, 1597, 982, 1975, 24)]:
    fig.text(fx(vx), fy(vy), "Value", rotation=90, fontsize=fs, ha="center", va="center")
    fig.text(fx(ax_x), fy(ax_y), "Attribute", fontsize=fs, ha="center", va="center")

# legends
draw_legend(["LGG1", "LGG2", "LGG3"], [BLUE, YELLOW, GREY], 847.5, 229.5, 861, 883,
            [259, 287, 314.5], 14, 20, 15, 5, 2.3)
draw_legend(["GBM1", "GBM2"], [BLUE, YELLOW], 1802, 246, 1816, 1839.6,
            [274.5, 303], 14, 20, 15, 5, 2.3)
draw_legend(["LGG1", "LGG2", "LGG3"], [BLUE, YELLOW, GREY], 1811.6, 834, 1827.6, 1854,
            [869, 901.4, 934.8], 16.5, 26, 19, 5, 2.8)
draw_legend(["GBM1", "GBM2"], [BLUE, YELLOW], 1828, 1560, 1845, 1873,
            [1596, 1631], 16.5, 26, 19, 5, 2.8)

fig.savefig("out.png", dpi=100)
